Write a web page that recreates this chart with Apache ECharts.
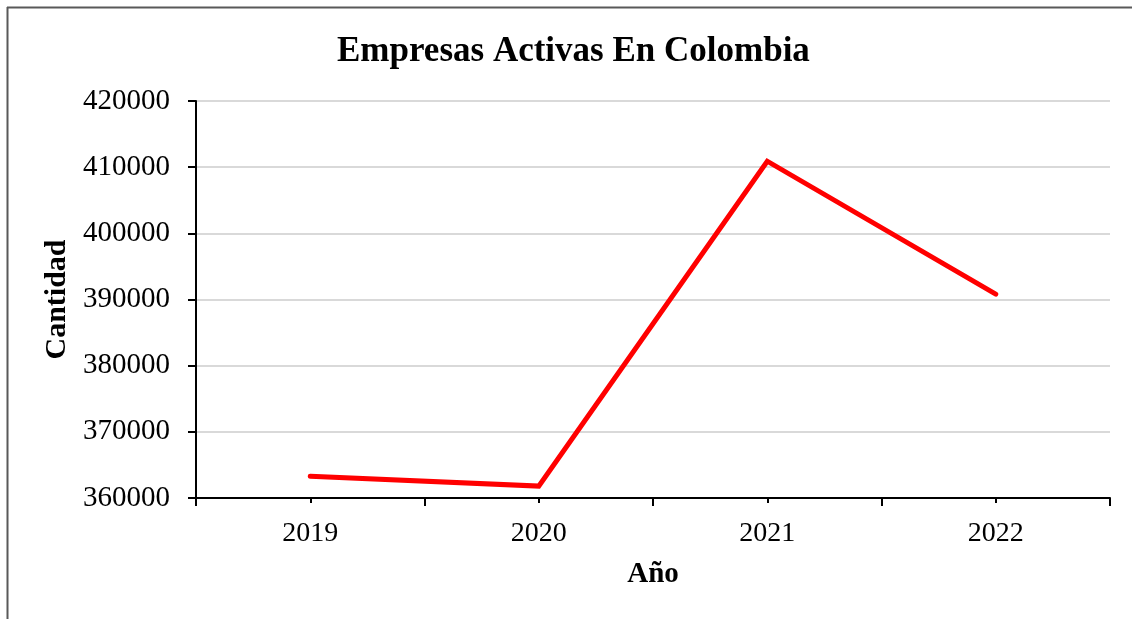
<!DOCTYPE html>
<html>
<head>
<meta charset="utf-8">
<script src="https://cdn.jsdelivr.net/npm/echarts@6/dist/echarts.min.js"></script>
<style>
html,body{margin:0;padding:0;background:#fff;}
#chart{width:1132px;height:619px;}
</style>
</head>
<body>
<div id="chart"></div>
<script>
const categories = ['2019', '2020', '2021', '2022'];
const empresas = [363300, 361800, 410900, 390800];
const yTicks = { min: 360000, max: 420000, interval: 10000 };

const chart = echarts.init(document.getElementById('chart'), null, { renderer: 'canvas' });
const font = '"Liberation Serif", "Times New Roman", serif';
chart.setOption({
  animation: false,
  backgroundColor: '#ffffff',
  title: {
    text: 'Empresas Activas En Colombia',
    left: 337,
    top: 34,
    padding: 0,
    textStyle: { fontFamily: font, fontWeight: 'bold', fontSize: 35, color: '#000' }
  },
  grid: { left: 196, right: 22, top: 101, bottom: 121, containLabel: false },
  graphic: [
    { type: 'line', shape: { x1: 7.5, y1: 7, x2: 7.5, y2: 619 }, style: { stroke: '#595959', lineWidth: 2 }, silent: true },
    { type: 'line', shape: { x1: 7, y1: 7.5, x2: 1132, y2: 7.5 }, style: { stroke: '#595959', lineWidth: 2 }, silent: true }
  ],
  xAxis: [
    {
      type: 'category',
      data: categories,
      boundaryGap: true,
      name: 'Año',
      nameLocation: 'middle',
      nameGap: 62,
      nameTextStyle: { fontFamily: font, fontWeight: 'bold', fontSize: 29, color: '#000' },
      axisLine: { lineStyle: { color: '#000', width: 2 } },
      axisTick: { show: true, length: 8, lineStyle: { color: '#000', width: 2 } },
      axisLabel: { fontFamily: font, fontSize: 28, color: '#000', margin: 22 },
      splitLine: { show: false }
    },
    {
      type: 'category',
      data: categories,
      position: 'bottom',
      boundaryGap: true,
      axisLine: { show: false },
      axisTick: { show: true, alignWithLabel: true, length: 5, lineStyle: { color: '#000', width: 2 } },
      axisLabel: { show: false },
      splitLine: { show: false }
    }
  ],
  yAxis: {
    type: 'value',
    min: yTicks.min,
    max: yTicks.max,
    interval: yTicks.interval,
    name: 'Cantidad',
    nameLocation: 'middle',
    nameGap: 121,
    nameTextStyle: { fontFamily: font, fontWeight: 'bold', fontSize: 30, color: '#000' },
    axisLine: { show: true, lineStyle: { color: '#000', width: 2 } },
    axisTick: { show: true, length: 8, lineStyle: { color: '#000', width: 2 } },
    axisLabel: { fontFamily: font, fontSize: 29, color: '#000', margin: 26, formatter: v => String(v) },
    splitLine: { show: true, lineStyle: { color: '#d9d9d9', width: 2 } }
  },
  series: [{
    type: 'line',
    data: empresas,
    xAxisIndex: 0,
    symbol: 'none',
    lineStyle: { color: '#ff0000', width: 5, cap: 'round', join: 'miter' },
    itemStyle: { color: '#ff0000' }
  }]
});
</script>
</body>
</html>
